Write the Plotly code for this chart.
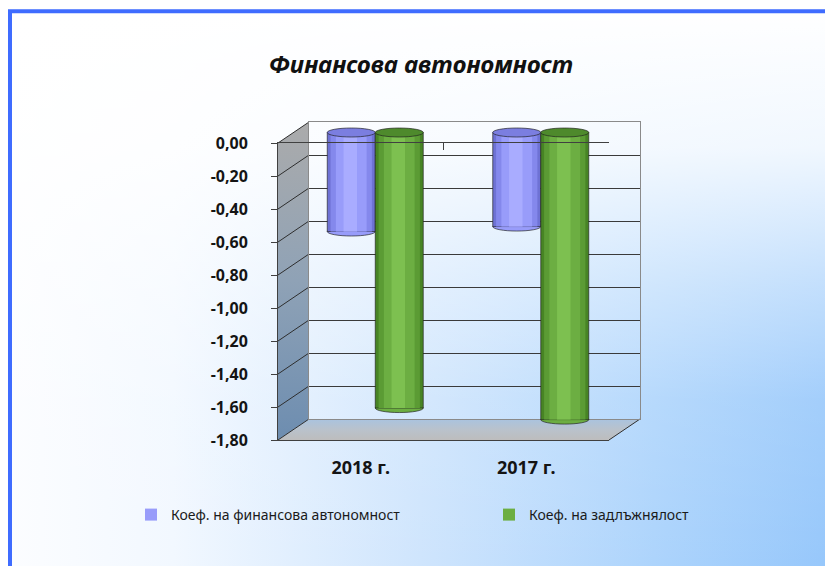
import plotly.graph_objects as go

# ---------------- data ----------------
categories = ["2018 г.", "2017 г."]
autonomy = [-0.60, -0.57]      # Коеф. на финансова автономност
debt = [-1.67, -1.74]          # Коеф. на задлъжнялост
series_names = ["Коеф. на финансова автономност", "Коеф. на задлъжнялост"]
y_ticks = [0.0, -0.2, -0.4, -0.6, -0.8, -1.0, -1.2, -1.4, -1.6, -1.8]
y_tick_labels = ["0,00", "-0,20", "-0,40", "-0,60", "-0,80",
                 "-1,00", "-1,20", "-1,40", "-1,60", "-1,80"]
title_text = "Финансова автономност"

# ---------------- geometry ----------------
# the page body adds an 8px offset, so the figure is 8px smaller and every
# screen position is shifted back by OFF
OFF = 8
SW, SH = 833, 566
W, H = SW - OFF, SH - OFF
FX0, FX1 = 278 - OFF, 609 - OFF    # front box left/right
FY0, FY1 = 143 - OFF, 440 - OFF    # front: top (0) / bottom (-1.8)
DX, DY = 31, -21                   # depth offset of back wall
YMIN, YMAX = -1.8, 0.0
PPU = (FY1 - FY0) / (YMAX - YMIN)  # pixels per unit


def dx(a, b):
    return [a / W, b / W]


def dy(top, bot):
    return [1 - bot / H, 1 - top / H]


def Y(py):  # pixel row -> background axis value
    return H - py


FONT = "Noto Sans"
fig = go.Figure()

# ---------------- background gradient (subplot xy) ----------------
rect_x = [0, W, W, 0, 0]
rect_y = [0, 0, H, H, 0]
fig.add_trace(go.Scatter(
    x=rect_x, y=rect_y, mode="lines", line=dict(width=0), fill="toself",
    fillgradient=dict(type="horizontal",
                      colorscale=[[0, "#fcfdff"], [0.2, "#f2f8ff"], [0.5, "#cfe5fd"],
                                  [0.8, "#abd3fc"], [1, "#96c7fb"]]),
    hoverinfo="skip", showlegend=False, xaxis="x", yaxis="y"))
fig.add_trace(go.Scatter(
    x=rect_x, y=rect_y, mode="lines", line=dict(width=0), fill="toself",
    fillgradient=dict(type="vertical",
                      colorscale=[[0, "rgba(255,255,255,0)"], [0.3, "rgba(255,255,255,0.12)"],
                                  [0.5, "rgba(255,255,255,0.42)"], [0.75, "rgba(255,255,255,0.86)"],
                                  [1, "rgba(255,255,255,1)"]]),
    hoverinfo="skip", showlegend=False, xaxis="x", yaxis="y"))

# side wall
sw = [(FX0, FY0), (FX0 + DX, FY0 + DY), (FX0 + DX, FY1 + DY), (FX0, FY1), (FX0, FY0)]
fig.add_trace(go.Scatter(
    x=[p[0] for p in sw], y=[Y(p[1]) for p in sw], mode="lines",
    line=dict(width=0), fill="toself",
    fillgradient=dict(type="vertical", colorscale=[[0, "#6d8db0"], [0.5, "#8fa2b6"], [1, "#ababab"]]),
    hoverinfo="skip", showlegend=False, xaxis="x", yaxis="y"))
# floor
fl = [(FX0, FY1), (FX1, FY1), (FX1 + DX, FY1 + DY), (FX0 + DX, FY1 + DY), (FX0, FY1)]
fig.add_trace(go.Scatter(
    x=[p[0] for p in fl], y=[Y(p[1]) for p in fl], mode="lines",
    line=dict(width=0), fill="toself",
    fillgradient=dict(type="vertical", colorscale=[[0, "#bdbdbd"], [0.5, "#b9c2cc"], [1, "#a9c3df"]]),
    hoverinfo="skip", showlegend=False, xaxis="x", yaxis="y"))
# side wall grid lines (one per y tick) and floor edge
gx, gy = [], []
for v in y_ticks:
    pf = FY0 + (YMAX - v) * PPU
    gx += [FX0, FX0 + DX, None]
    gy += [Y(pf), Y(pf + DY), None]
gx += [FX1, FX1 + DX, None]
gy += [Y(FY1), Y(FY1 + DY), None]
fig.add_trace(go.Scatter(x=gx, y=gy, mode="lines", line=dict(color="#2e2e2e", width=1),
                         hoverinfo="skip", showlegend=False, xaxis="x", yaxis="y"))

# register the back-wall subplot (x2y2) so it is drawn after the background
fig.add_trace(go.Scatter(x=[None], y=[None], mode="markers", hoverinfo="skip",
                         showlegend=False, xaxis="x2", yaxis="y2"))

# ---------------- bars (cylinders) at mid depth (x3y3) ----------------
MX, MY = DX / 2, DY / 2
cat_px = (FX1 - FX0) / len(categories)
bar_w = 48 / cat_px
offsets = [-49 / cat_px, -1 / cat_px]
palettes = [
    dict(dark="#6e72d4", dm="#8488ec", mid="#989cfa", light="#a9acff", top="#7b7ee0"),
    dict(dark="#478424", dm="#5b9b34", mid="#6cae42", light="#7dc050", top="#4e8a2c"),
]
layers = [(0.0, 1.0, "dark"), (0.07, 0.93, "dm"), (0.18, 0.82, "mid"), (0.34, 0.62, "light")]
series_vals = [autonomy, debt]
legend_ids = ["legend", "legend2"]
ry = 4.5 / PPU
shapes = []
for s, vals in enumerate(series_vals):
    pal = palettes[s]
    for li, (a, b, key) in enumerate(layers):
        fig.add_trace(go.Bar(
            x=categories, y=vals, name=series_names[s],
            offset=offsets[s] + a * bar_w, width=(b - a) * bar_w,
            marker=dict(color=pal[key],
                        line=dict(color="rgba(30,30,30,0.65)" if li == 0 else pal[key],
                                  width=1 if li == 0 else 0)),
            showlegend=(key == "mid"), legend=legend_ids[s], legendgroup=f"s{s}",
            hoverinfo="skip", xaxis="x3", yaxis="y3"))
    for i, v in enumerate(vals):
        x0 = i + offsets[s]
        x1 = x0 + bar_w
        shapes.append(dict(type="circle", xref="x3", yref="y3", x0=x0, x1=x1,
                           y0=v - ry, y1=v + ry, fillcolor=pal["mid"],
                           line=dict(color="rgba(30,30,30,0.65)", width=1), layer="below"))
        shapes.append(dict(type="circle", xref="x3", yref="y3", x0=x0, x1=x1,
                           y0=-ry, y1=ry, fillcolor=pal["top"],
                           line=dict(color="rgba(30,30,30,0.65)", width=1), layer="above"))

# register the front-axes subplot (x4y4, plus top overlay x5)
fig.add_trace(go.Scatter(x=[None], y=[None], mode="markers", hoverinfo="skip",
                         showlegend=False, xaxis="x4", yaxis="y4"))
fig.add_trace(go.Scatter(x=[None], y=[None], mode="markers", hoverinfo="skip",
                         showlegend=False, xaxis="x5", yaxis="y4"))

# frame border (left and top edges visible)
shapes.append(dict(type="rect", xref="paper", yref="paper", x0=(10 - OFF) / W, x1=1.05,
                   y0=-0.05, y1=1 - (11.3 - OFF) / H, line=dict(color="#3f6cff", width=4),
                   fillcolor="rgba(0,0,0,0)", layer="above"))

# ---------------- layout ----------------
bar_top_px = FY0 + MY - 0.1 * PPU
bar_bot_px = FY0 + MY + 1.9 * PPU
legend_font = dict(family=FONT, size=14, color="#1a1a1a")
fig.update_layout(
    width=W, height=H, margin=dict(l=0, r=0, t=0, b=0, pad=0, autoexpand=False),
    paper_bgcolor="white", plot_bgcolor="rgba(0,0,0,0)",
    barmode="overlay", hovermode=False, shapes=shapes,
    title=dict(text=title_text, x=(421 - OFF) / W, xanchor="center", y=1 - (65 - OFF) / H,
               yanchor="middle",
               font=dict(family=FONT, size=24, color="#111111", weight="bold", style="italic")),
    legend=dict(orientation="h", x=(131 - OFF) / W, y=1 - (515 - OFF) / H, xanchor="left",
                yanchor="middle", bgcolor="rgba(0,0,0,0)", font=legend_font),
    legend2=dict(orientation="h", x=(489 - OFF) / W, y=1 - (515 - OFF) / H, xanchor="left",
                 yanchor="middle", bgcolor="rgba(0,0,0,0)", font=legend_font),
    # background canvas
    xaxis=dict(domain=[0, 1], range=[0, W], visible=False, fixedrange=True, automargin=False),
    yaxis=dict(domain=[0, 1], range=[0, H], visible=False, fixedrange=True, automargin=False),
    # back wall
    xaxis2=dict(domain=dx(FX0 + DX, FX1 + DX), range=[-0.5, len(categories) - 0.5], anchor="y2",
                showticklabels=False, ticks="", showgrid=False, zeroline=False, automargin=False,
                showline=True, mirror=True, linecolor="#8a8a8a", linewidth=1),
    yaxis2=dict(domain=dy(FY0 + DY, FY1 + DY), range=[YMIN, YMAX], anchor="x2",
                tickvals=y_ticks, showticklabels=False, ticks="", showgrid=True,
                gridcolor="#3a3a3a", gridwidth=1, zeroline=False, automargin=False,
                showline=True, mirror=True, linecolor="#8a8a8a", linewidth=1),
    # bars (mid depth)
    xaxis3=dict(domain=dx(FX0 + MX, FX1 + MX), range=[-0.5, len(categories) - 0.5], anchor="y3",
                visible=False, type="category", categoryorder="array", categoryarray=categories,
                automargin=False),
    yaxis3=dict(domain=dy(bar_top_px, bar_bot_px), range=[YMIN - 0.1, YMAX + 0.1], anchor="x3",
                visible=False, automargin=False),
    # front axes
    xaxis4=dict(domain=dx(FX0, FX1), range=[-0.5, len(categories) - 0.5], anchor="y4",
                tickvals=list(range(len(categories))), ticktext=categories, ticks="",
                showline=True, linecolor="#404040", linewidth=1, showgrid=False, zeroline=False,
                ticklabelstandoff=11, automargin=False,
                tickfont=dict(family=FONT, size=18, color="#141414", weight="bold")),
    yaxis4=dict(domain=dy(FY0, FY1), range=[YMIN, YMAX], anchor="x4",
                tickvals=y_ticks, ticktext=y_tick_labels, ticks="outside", ticklen=6,
                tickcolor="#404040", showline=True, linecolor="#404040", linewidth=1,
                showgrid=False, zeroline=False, ticklabelstandoff=20, automargin=False,
                tickfont=dict(family=FONT, size=16, color="#141414", weight="bold")),
    xaxis5=dict(overlaying="x4", anchor="y4", side="top", range=[-0.5, len(categories) - 0.5],
                tickvals=[i - 0.5 for i in range(len(categories) + 1)], ticks="inside", ticklen=7,
                tickcolor="#404040", showticklabels=False, showline=True, linecolor="#404040",
                linewidth=1, showgrid=False, zeroline=False, automargin=False),
)

fig.write_html("out.html")
